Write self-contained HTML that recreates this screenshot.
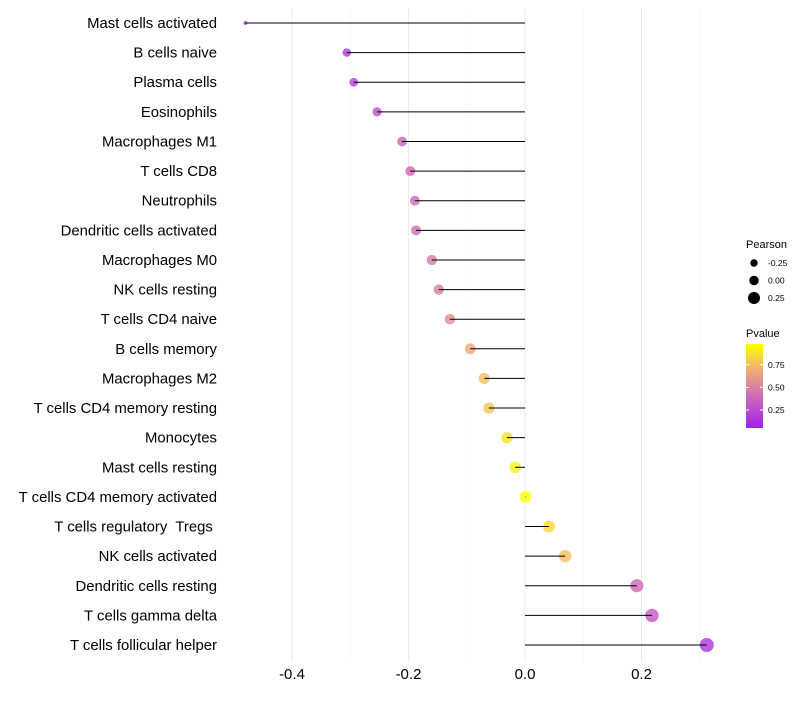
<!DOCTYPE html>
<html><head><meta charset="utf-8"><style>
body{margin:0;background:#fff;font-family:"Liberation Sans",sans-serif}
text{white-space:pre}
</style></head><body>
<svg id="c" width="800" height="700" xmlns="http://www.w3.org/2000/svg"></svg>
<script>
const categories=["Mast cells activated","B cells naive","Plasma cells","Eosinophils","Macrophages M1","T cells CD8","Neutrophils","Dendritic cells activated","Macrophages M0","NK cells resting","T cells CD4 naive","B cells memory","Macrophages M2","T cells CD4 memory resting","Monocytes","Mast cells resting","T cells CD4 memory activated","T cells regulatory  Tregs ","NK cells activated","Dendritic cells resting","T cells gamma delta","T cells follicular helper"];
const pearson=[-0.48,-0.306,-0.294,-0.254,-0.211,-0.197,-0.189,-0.187,-0.160,-0.148,-0.129,-0.094,-0.070,-0.062,-0.031,-0.017,0.001,0.041,0.069,0.192,0.218,0.312];
const pvalue=[0.02,0.17,0.19,0.26,0.36,0.38,0.39,0.40,0.46,0.49,0.55,0.67,0.74,0.77,0.88,0.93,0.99,0.85,0.75,0.38,0.31,0.14];
const xTicks=[-0.4,-0.2,0.0,0.2];
const xTickLabels=["-0.4","-0.2","0.0","0.2"];
const sizeLegend=[-0.25,0,0.25];
const sizeLegendLabels=["-0.25","0.00","0.25"];
const colorTicks=[0.25,0.5,0.75];
const colorTickLabels=["0.25","0.50","0.75"];
const NS="http://www.w3.org/2000/svg";
const svg=document.getElementById('c');
function el(t,a,p){const e=document.createElementNS(NS,t);for(const k in a)e.setAttribute(k,a[k]);(p||svg).appendChild(e);return e;}
const X=v=>525+v*582.5;
const Y=i=>23+i*(622/21);
const R=v=>1.84+5.8*Math.sqrt(Math.max(0,v+0.48));
const stops=[[0,[160,32,240]],[0.4,[208,112,176]],[0.7,[240,176,112]],[1,[255,255,0]]];
function col(p){p=Math.max(0,Math.min(1,(p-0.05)/0.93));for(let i=1;i<stops.length;i++){if(p<=stops[i][0]){const a=stops[i-1],b=stops[i],t=(p-a[0])/(b[0]-a[0]);return 'rgb('+a[1].map((c,j)=>Math.round(c+(b[1][j]-c)*t)).join(',')+')';}}return 'rgb(255,255,0)';}
xTicks.forEach((t,i)=>{const g=el('line',{x1:X(t),x2:X(t),y1:8,y2:662,stroke:'#ebebeb','stroke-width':1});

const tx=el('text',{x:X(t),y:679,'text-anchor':'middle','font-size':15,fill:'#000'});tx.textContent=xTickLabels[i];
});
[-0.3,-0.1,0.1,0.3].forEach(t=>{const g=el('line',{x1:X(t),x2:X(t),y1:8,y2:662,stroke:'#f5f5f5','stroke-width':0.6});
});
categories.forEach((c,i)=>{const y=Y(i);
const t=el('text',{x:217,y:y+5,'text-anchor':'end','font-size':14.9,fill:'#000'});t.textContent=c;

const d=el('circle',{cx:X(pearson[i]),cy:y,r:R(pearson[i]),fill:col(pvalue[i]),'fill-opacity':0.8});

const l=el('line',{x1:X(0),x2:X(pearson[i]),y1:y,y2:y,stroke:'#000','stroke-width':1});

});
let t=el('text',{x:746,y:248,'font-size':11,fill:'#000'});t.textContent='Pearson';

const LR=[3.7,4.7,6];
sizeLegend.forEach((v,i)=>{const y=263+i*17.5;
const c=el('circle',{cx:754,cy:y,r:LR[i],fill:'#000'});
const tx=el('text',{x:768,y:y+3,'font-size':8.5,fill:'#000'});tx.textContent=sizeLegendLabels[i];
});
t=el('text',{x:746,y:337,'font-size':11,fill:'#000'});t.textContent='Pvalue';

const defs=el('defs',{});const lg=el('linearGradient',{id:'g',x1:0,y1:1,x2:0,y2:0},defs);
stops.forEach(s=>el('stop',{offset:s[0],'stop-color':'rgb('+s[1].join(',')+')'},lg));
const cb=el('rect',{x:746,y:344,width:17,height:84,fill:'url(#g)'});

const CY=p=>428-(p-0.05)/0.93*84;
colorTicks.forEach((p,i)=>{el('line',{x1:746,x2:749,y1:CY(p),y2:CY(p),stroke:'#fff'});el('line',{x1:760,x2:763,y1:CY(p),y2:CY(p),stroke:'#fff'});
const tx=el('text',{x:768,y:CY(p)+3,'font-size':8.5,fill:'#000'});tx.textContent=colorTickLabels[i];
});
</script>
</body></html>
